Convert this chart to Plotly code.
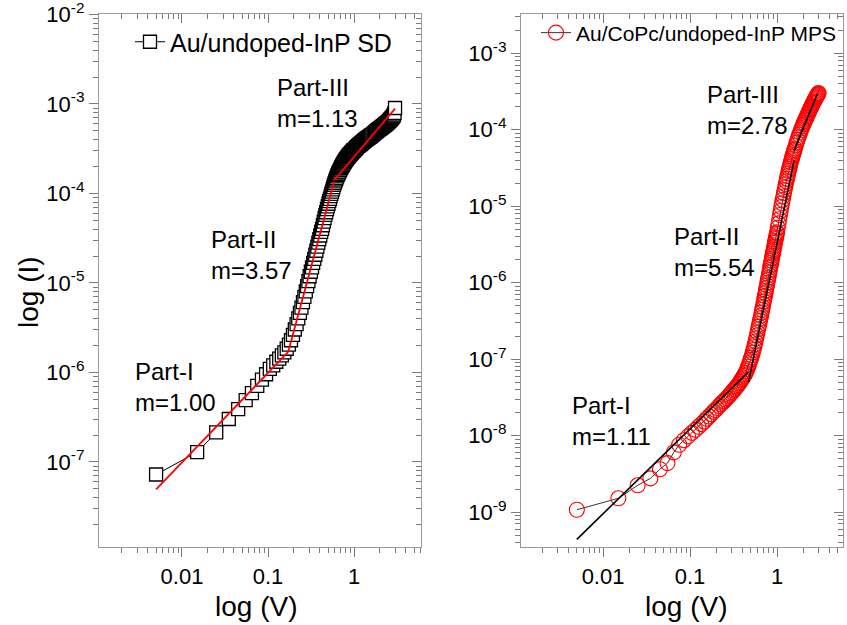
import plotly.graph_objects as go

# Bias voltage sweep (V), shared by both devices
voltage = [0.005, 0.015, 0.025, 0.035, 0.045, 0.055, 0.065, 0.075, 0.085, 0.095,
           0.105, 0.115, 0.125, 0.135, 0.145, 0.155, 0.165, 0.175, 0.185, 0.195,
           0.205, 0.215, 0.225, 0.235, 0.245, 0.255, 0.265, 0.275, 0.285, 0.295,
           0.305, 0.315, 0.325, 0.335, 0.345, 0.355, 0.365, 0.375, 0.385, 0.395,
           0.405, 0.415, 0.425, 0.435, 0.445, 0.455, 0.465, 0.475, 0.485, 0.495,
           0.505, 0.515, 0.525, 0.535, 0.545, 0.555, 0.565, 0.575, 0.585, 0.595,
           0.605, 0.615, 0.625, 0.635, 0.645, 0.655, 0.665, 0.675, 0.685, 0.695,
           0.705, 0.715, 0.725, 0.735, 0.745, 0.755, 0.765, 0.775, 0.785, 0.795,
           0.805, 0.815, 0.825, 0.835, 0.845, 0.855, 0.865, 0.875, 0.885, 0.895,
           0.905, 0.915, 0.925, 0.935, 0.945, 0.955, 0.965, 0.975, 0.985, 0.995,
           1.00, 1.02, 1.04, 1.06, 1.08, 1.10, 1.12, 1.14, 1.16, 1.18,
           1.20, 1.22, 1.24, 1.26, 1.28, 1.30, 1.32, 1.34, 1.36, 1.38,
           1.40, 1.42, 1.44, 1.46, 1.48, 1.50, 1.52, 1.54, 1.56, 1.58,
           1.60, 1.64, 1.68, 1.72, 1.76, 1.80, 1.84, 1.88, 1.92, 1.96,
           2.00, 2.04, 2.08, 2.12, 2.16, 2.20, 2.24, 2.28, 2.32, 2.36,
           2.40, 2.44, 2.48, 2.52, 2.56, 2.60, 2.64, 2.68, 2.72, 2.76,
           2.80, 2.84, 2.88, 2.92, 2.96, 3.00]

# log10 of forward current (A): Au/undoped-InP Schottky diode
log_current_sd = [
    -7.14, -6.89, -6.67, -6.52, -6.41, -6.31, -6.23, -6.15, -6.08, -6.02,
    -5.96, -5.92, -5.88, -5.845, -5.81, -5.775, -5.735, -5.69, -5.64, -5.58,
    -5.52, -5.46, -5.395, -5.335, -5.275, -5.215, -5.155, -5.095, -5.035, -4.98,
    -4.925, -4.875, -4.825, -4.775, -4.73, -4.685, -4.64, -4.595, -4.55, -4.51,
    -4.47, -4.43, -4.395, -4.355, -4.315, -4.275, -4.24, -4.21, -4.175, -4.145,
    -4.115, -4.085, -4.06, -4.03, -4.005, -3.98, -3.955, -3.93, -3.905, -3.885,
    -3.865, -3.845, -3.83, -3.81, -3.795, -3.78, -3.765, -3.755, -3.74, -3.73,
    -3.715, -3.705, -3.695, -3.685, -3.675, -3.665, -3.655, -3.645, -3.64, -3.63,
    -3.62, -3.615, -3.61, -3.60, -3.595, -3.59, -3.58, -3.575, -3.57, -3.565,
    -3.56, -3.555, -3.55, -3.545, -3.54, -3.535, -3.53, -3.525, -3.52, -3.515,
    -3.515, -3.508, -3.50, -3.492, -3.483, -3.475, -3.468, -3.462, -3.456, -3.45,
    -3.445, -3.439, -3.433, -3.427, -3.421, -3.415, -3.41, -3.405, -3.40, -3.395,
    -3.39, -3.386, -3.382, -3.378, -3.374, -3.37, -3.366, -3.362, -3.358, -3.354,
    -3.35, -3.342, -3.334, -3.326, -3.318, -3.31, -3.302, -3.294, -3.287, -3.281,
    -3.275, -3.269, -3.263, -3.257, -3.251, -3.245, -3.239, -3.233, -3.227, -3.221,
    -3.215, -3.209, -3.203, -3.197, -3.19, -3.183, -3.176, -3.169, -3.162, -3.155,
    -3.148, -3.14, -3.13, -3.118, -3.10, -3.045]

# log10 of forward current (A): Au/CoPc/undoped-InP MPS structure
log_current_mps = [
    -8.97, -8.82, -8.65, -8.56, -8.44, -8.36, -8.22, -8.12, -8.06, -8.01,
    -7.965, -7.925, -7.885, -7.85, -7.815, -7.78, -7.75, -7.72, -7.69, -7.665,
    -7.64, -7.615, -7.59, -7.57, -7.55, -7.53, -7.51, -7.49, -7.47, -7.45,
    -7.43, -7.41, -7.395, -7.375, -7.36, -7.34, -7.32, -7.30, -7.28, -7.26,
    -7.24, -7.22, -7.20, -7.18, -7.155, -7.13, -7.10, -7.07, -7.04, -7.01,
    -6.98, -6.95, -6.915, -6.88, -6.845, -6.81, -6.77, -6.73, -6.69, -6.65,
    -6.61, -6.575, -6.54, -6.50, -6.465, -6.43, -6.39, -6.355, -6.32, -6.28,
    -6.245, -6.21, -6.175, -6.14, -6.105, -6.07, -6.035, -6.00, -5.965, -5.935,
    -5.90, -5.865, -5.835, -5.80, -5.77, -5.74, -5.71, -5.68, -5.65, -5.62,
    -5.59, -5.565, -5.535, -5.51, -5.48, -5.455, -5.43, -5.405, -5.38, -5.355,
    -5.34, -5.28, -5.225, -5.17, -5.115, -5.062, -5.01, -4.962, -4.915, -4.872,
    -4.83, -4.79, -4.75, -4.712, -4.675, -4.64, -4.605, -4.572, -4.54, -4.51,
    -4.48, -4.452, -4.425, -4.40, -4.375, -4.352, -4.33, -4.307, -4.285, -4.265,
    -4.245, -4.205, -4.168, -4.132, -4.098, -4.066, -4.036, -4.007, -3.98, -3.955,
    -3.93, -3.908, -3.886, -3.865, -3.845, -3.825, -3.805, -3.786, -3.767, -3.749,
    -3.731, -3.714, -3.697, -3.68, -3.664, -3.648, -3.633, -3.618, -3.604, -3.59,
    -3.577, -3.564, -3.552, -3.541, -3.531, -3.52]

# Power-law fits I ~ V^m for the three conduction regions
region_names = ["Part-I", "Part-II", "Part-III"]
sd_fit_v_start = [0.005, 0.172, 0.585]
sd_fit_v_end = [0.172, 0.585, 3.0]
sd_fit_i_start = [4.95e-8, 1.7e-6, 1.4e-4]
sd_fit_slope = [1.00, 3.57, 1.13]

mps_fit_v_start = [0.005, 0.47, 1.567]
mps_fit_v_end = [0.47, 1.567, 2.9]
mps_fit_i_start = [4.4e-10, 5.0e-8, 5.3e-5]
mps_fit_slope = [1.11, 5.54, 2.78]

x_tick_vals = [0.01, 0.1, 1]
x_tick_text = ["0.01", "0.1", "1"]
sd_y_exps = [-7, -6, -5, -4, -3, -2]
mps_y_exps = [-9, -8, -7, -6, -5, -4, -3]

W, H = 847, 625
FONT = "Liberation Sans, Arial, sans-serif"
AXIS_GREY = "#9a9a9a"
TICK_GREY = "#7a7a7a"


def px(x):
    return x / W


def py(y):
    return 1 - y / H


current_sd = [10.0 ** v for v in log_current_sd]
current_mps = [10.0 ** v for v in log_current_mps]

fig = go.Figure()

# Measured data
fig.add_trace(go.Scatter(
    x=voltage, y=current_sd, mode="lines+markers", name="Au/undoped-InP SD",
    line=dict(color="black", width=1),
    marker=dict(symbol="square", size=13, color="white", line=dict(color="black", width=1.3)),
    xaxis="x", yaxis="y", legend="legend"))
fig.add_trace(go.Scatter(
    x=voltage, y=current_mps, mode="lines+markers", name="Au/CoPc/undoped-InP MPS",
    line=dict(color="#333333", width=1),
    marker=dict(symbol="circle-open", size=15, color="red", line=dict(color="red", width=1.1)),
    xaxis="x2", yaxis="y2", legend="legend2"))

# Fitted straight segments
for v0, v1, i0, m in zip(sd_fit_v_start, sd_fit_v_end, sd_fit_i_start, sd_fit_slope):
    fig.add_trace(go.Scatter(x=[v0, v1], y=[i0, i0 * (v1 / v0) ** m], mode="lines",
                             line=dict(color="red", width=1.8), showlegend=False,
                             xaxis="x", yaxis="y"))
for v0, v1, i0, m in zip(mps_fit_v_start, mps_fit_v_end, mps_fit_i_start, mps_fit_slope):
    fig.add_trace(go.Scatter(x=[v0, v1], y=[i0, i0 * (v1 / v0) ** m], mode="lines",
                             line=dict(color="black", width=1.6), showlegend=False,
                             xaxis="x2", yaxis="y2"))

# Empty traces so the mirrored (top / right) frame axes get drawn
for xa, ya in [("x3", "y3"), ("x4", "y4")]:
    fig.add_trace(go.Scatter(x=[], y=[], xaxis=xa, yaxis=ya, showlegend=False,
                             hoverinfo="skip"))

tick_font = dict(family=FONT, size=22, color="black")


def main_x(domain, rng):
    return dict(type="log", domain=domain, range=rng, showgrid=False, zeroline=False,
                automargin=False, showline=True, linecolor=AXIS_GREY, linewidth=1.2,
                ticks="outside", ticklen=9, tickwidth=1.2, tickcolor=TICK_GREY,
                tickvals=x_tick_vals, ticktext=x_tick_text, tickfont=tick_font,
                minor=dict(ticks="outside", ticklen=5, tickwidth=1, tickcolor=TICK_GREY,
                           dtick="D1", showgrid=False))


def main_y(domain, rng, exps):
    return dict(type="log", domain=domain, range=rng, showgrid=False, zeroline=False,
                automargin=False, showline=True, linecolor=AXIS_GREY, linewidth=1.2,
                ticks="outside", ticklen=9, tickwidth=1.2, tickcolor=TICK_GREY,
                tickvals=[10.0 ** e for e in exps],
                ticktext=["10<sup>%d</sup>" % e for e in exps], tickfont=tick_font,
                ticklabeloverflow="allow",
                minor=dict(ticks="outside", ticklen=5, tickwidth=1, tickcolor=TICK_GREY,
                           dtick="D1", showgrid=False))


def mirror_axis(base, side, rng, anchor):
    return dict(type="log", overlaying=base, side=side, anchor=anchor, range=rng,
                showgrid=False, zeroline=False, automargin=False, showline=True,
                linecolor=AXIS_GREY, linewidth=1.2, ticks="inside", ticklen=9,
                tickwidth=1.2, tickcolor=TICK_GREY, dtick=1, showticklabels=False,
                minor=dict(ticks="inside", ticklen=5, tickwidth=1, tickcolor=TICK_GREY,
                           dtick="D1", showgrid=False))


left_dom = [px(99), px(421)]
right_dom = [px(521), px(843)]
y_dom = [py(547), py(14)]
sd_xr, sd_yr = [-2.965, 0.779], [-7.95, -1.995]
mps_xr, mps_yr = [-2.943, 0.758], [-9.457, -2.486]

annotations = []
sd_labels = [(133, 387), (209, 255), (275, 103)]
mps_labels = [(570, 421), (672, 252), (705, 110)]
for (lx, ly), name, m in zip(sd_labels, region_names, sd_fit_slope):
    annotations.append(dict(x=px(lx), y=py(ly), xref="paper", yref="paper", xanchor="left",
                            yanchor="middle", align="left", showarrow=False,
                            text="%s<br>m=%.2f" % (name, m),
                            font=dict(family=FONT, size=24, color="black")))
for (lx, ly), name, m in zip(mps_labels, region_names, mps_fit_slope):
    annotations.append(dict(x=px(lx), y=py(ly), xref="paper", yref="paper", xanchor="left",
                            yanchor="middle", align="left", showarrow=False,
                            text="%s<br>m=%.2f" % (name, m),
                            font=dict(family=FONT, size=24, color="black")))

title_font = dict(family=FONT, size=28, color="black")
annotations += [
    dict(x=px(256), y=py(606), xref="paper", yref="paper", text="log (V)", showarrow=False,
         font=title_font, xanchor="center", yanchor="middle"),
    dict(x=px(686), y=py(606), xref="paper", yref="paper", text="log (V)", showarrow=False,
         font=title_font, xanchor="center", yanchor="middle"),
    dict(x=px(28), y=py(292), xref="paper", yref="paper", text="log (I)", showarrow=False,
         font=title_font, textangle=-90, xanchor="center", yanchor="middle"),
]

fig.update_layout(
    width=W, height=H, margin=dict(l=0, r=0, t=0, b=0, autoexpand=False),
    paper_bgcolor="white", plot_bgcolor="white",
    font=dict(family=FONT, color="black"),
    xaxis=main_x(left_dom, sd_xr),
    yaxis=dict(main_y(y_dom, sd_yr, sd_y_exps), anchor="x"),
    xaxis3=mirror_axis("x", "top", sd_xr, "y3"),
    yaxis3=mirror_axis("y", "right", sd_yr, "x3"),
    xaxis2=dict(main_x(right_dom, mps_xr), anchor="y2"),
    yaxis2=dict(main_y(y_dom, mps_yr, mps_y_exps), anchor="x2"),
    xaxis4=mirror_axis("x2", "top", mps_xr, "y4"),
    yaxis4=mirror_axis("y2", "right", mps_yr, "x4"),
    legend=dict(x=px(130), y=py(42), xanchor="left", yanchor="middle",
                bgcolor="rgba(0,0,0,0)", borderwidth=0,
                font=dict(family=FONT, size=25, color="black")),
    legend2=dict(x=px(536), y=py(33), xanchor="left", yanchor="middle",
                 bgcolor="rgba(0,0,0,0)", borderwidth=0,
                 font=dict(family=FONT, size=21, color="black")),
    annotations=annotations,
)

fig.write_html("out.html")
